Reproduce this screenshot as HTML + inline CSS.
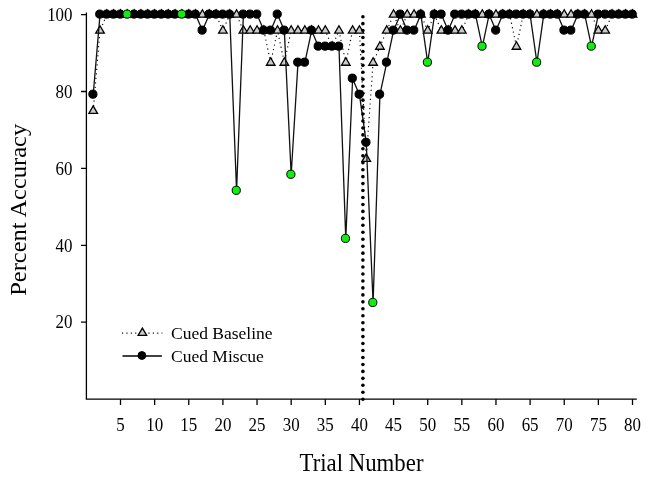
<!DOCTYPE html>
<html><head><meta charset="utf-8"><title>Percent Accuracy by Trial</title>
<style>html,body{margin:0;padding:0;background:#fff;width:650px;height:480px;overflow:hidden}svg{display:block}</style>
</head><body>
<svg width="650" height="480" viewBox="0 0 650 480"><rect width="650" height="480" fill="#fff"/><polyline points="93.2,110.73 100.02,30.62 106.85,14.6 113.68,14.6 120.5,14.6 127.33,14.6 134.16,14.6 140.98,14.6 147.81,14.6 154.64,14.6 161.46,14.6 168.29,14.6 175.12,14.6 181.94,14.6 188.77,14.6 195.6,14.6 202.42,14.6 209.25,14.6 216.08,14.6 222.9,30.62 229.73,14.6 236.56,14.6 243.38,30.62 250.21,30.62 257.04,30.62 263.86,30.62 270.69,62.66 277.52,30.62 284.34,62.66 291.17,30.62 298,30.62 304.82,30.62 311.65,30.62 318.48,30.62 325.3,30.62 332.13,46.64 338.96,30.62 345.78,62.66 352.61,30.62 359.44,30.62 366.26,158.79 373.09,62.66 379.92,46.64 386.74,30.62 393.57,14.6 400.4,30.62 407.22,14.6 414.05,14.6 420.88,14.6 427.7,30.62 434.53,14.6 441.36,30.62 448.19,30.62 455.01,30.62 461.84,30.62 468.67,14.6 475.49,14.6 482.32,14.6 489.15,14.6 495.97,14.6 502.8,14.6 509.63,14.6 516.45,46.64 523.28,14.6 530.11,14.6 536.93,14.6 543.76,14.6 550.59,14.6 557.41,14.6 564.24,14.6 571.07,14.6 577.89,14.6 584.72,14.6 591.55,14.6 598.37,30.62 605.2,30.62 612.03,14.6 618.85,14.6 625.68,14.6 632.51,14.6" fill="none" stroke="#000" stroke-width="1.15" stroke-dasharray="1.15 3.4" />
<g fill="#cbcbcb" stroke="#000" stroke-width="1.3" stroke-linejoin="miter"><path d="M93.2,105.83L97.5,113.33L88.9,113.33Z"/><path d="M100.02,25.72L104.32,33.22L95.72,33.22Z"/><path d="M106.85,9.7L111.15,17.2L102.55,17.2Z"/><path d="M113.68,9.7L117.98,17.2L109.38,17.2Z"/><path d="M120.5,9.7L124.8,17.2L116.2,17.2Z"/><path d="M127.33,9.7L131.63,17.2L123.03,17.2Z"/><path d="M134.16,9.7L138.46,17.2L129.86,17.2Z"/><path d="M140.98,9.7L145.28,17.2L136.68,17.2Z"/><path d="M147.81,9.7L152.11,17.2L143.51,17.2Z"/><path d="M154.64,9.7L158.94,17.2L150.34,17.2Z"/><path d="M161.46,9.7L165.76,17.2L157.16,17.2Z"/><path d="M168.29,9.7L172.59,17.2L163.99,17.2Z"/><path d="M175.12,9.7L179.42,17.2L170.82,17.2Z"/><path d="M181.94,9.7L186.24,17.2L177.64,17.2Z"/><path d="M188.77,9.7L193.07,17.2L184.47,17.2Z"/><path d="M195.6,9.7L199.9,17.2L191.3,17.2Z"/><path d="M202.42,9.7L206.72,17.2L198.12,17.2Z"/><path d="M209.25,9.7L213.55,17.2L204.95,17.2Z"/><path d="M216.08,9.7L220.38,17.2L211.78,17.2Z"/><path d="M222.9,25.72L227.2,33.22L218.6,33.22Z"/><path d="M229.73,9.7L234.03,17.2L225.43,17.2Z"/><path d="M236.56,9.7L240.86,17.2L232.26,17.2Z"/><path d="M243.38,25.72L247.68,33.22L239.08,33.22Z"/><path d="M250.21,25.72L254.51,33.22L245.91,33.22Z"/><path d="M257.04,25.72L261.34,33.22L252.74,33.22Z"/><path d="M263.86,25.72L268.16,33.22L259.56,33.22Z"/><path d="M270.69,57.76L274.99,65.26L266.39,65.26Z"/><path d="M277.52,25.72L281.82,33.22L273.22,33.22Z"/><path d="M284.34,57.76L288.64,65.26L280.04,65.26Z"/><path d="M291.17,25.72L295.47,33.22L286.87,33.22Z"/><path d="M298,25.72L302.3,33.22L293.7,33.22Z"/><path d="M304.82,25.72L309.12,33.22L300.52,33.22Z"/><path d="M311.65,25.72L315.95,33.22L307.35,33.22Z"/><path d="M318.48,25.72L322.78,33.22L314.18,33.22Z"/><path d="M325.3,25.72L329.6,33.22L321,33.22Z"/><path d="M332.13,41.74L336.43,49.24L327.83,49.24Z"/><path d="M338.96,25.72L343.26,33.22L334.66,33.22Z"/><path d="M345.78,57.76L350.08,65.26L341.48,65.26Z"/><path d="M352.61,25.72L356.91,33.22L348.31,33.22Z"/><path d="M359.44,25.72L363.74,33.22L355.14,33.22Z"/><path d="M366.26,153.89L370.56,161.39L361.96,161.39Z"/><path d="M373.09,57.76L377.39,65.26L368.79,65.26Z"/><path d="M379.92,41.74L384.22,49.24L375.62,49.24Z"/><path d="M386.74,25.72L391.04,33.22L382.44,33.22Z"/><path d="M393.57,9.7L397.87,17.2L389.27,17.2Z"/><path d="M400.4,25.72L404.7,33.22L396.1,33.22Z"/><path d="M407.22,9.7L411.52,17.2L402.92,17.2Z"/><path d="M414.05,9.7L418.35,17.2L409.75,17.2Z"/><path d="M420.88,9.7L425.18,17.2L416.58,17.2Z"/><path d="M427.7,25.72L432,33.22L423.4,33.22Z"/><path d="M434.53,9.7L438.83,17.2L430.23,17.2Z"/><path d="M441.36,25.72L445.66,33.22L437.06,33.22Z"/><path d="M448.19,25.72L452.49,33.22L443.89,33.22Z"/><path d="M455.01,25.72L459.31,33.22L450.71,33.22Z"/><path d="M461.84,25.72L466.14,33.22L457.54,33.22Z"/><path d="M468.67,9.7L472.97,17.2L464.37,17.2Z"/><path d="M475.49,9.7L479.79,17.2L471.19,17.2Z"/><path d="M482.32,9.7L486.62,17.2L478.02,17.2Z"/><path d="M489.15,9.7L493.45,17.2L484.85,17.2Z"/><path d="M495.97,9.7L500.27,17.2L491.67,17.2Z"/><path d="M502.8,9.7L507.1,17.2L498.5,17.2Z"/><path d="M509.63,9.7L513.93,17.2L505.33,17.2Z"/><path d="M516.45,41.74L520.75,49.24L512.15,49.24Z"/><path d="M523.28,9.7L527.58,17.2L518.98,17.2Z"/><path d="M530.11,9.7L534.41,17.2L525.81,17.2Z"/><path d="M536.93,9.7L541.23,17.2L532.63,17.2Z"/><path d="M543.76,9.7L548.06,17.2L539.46,17.2Z"/><path d="M550.59,9.7L554.89,17.2L546.29,17.2Z"/><path d="M557.41,9.7L561.71,17.2L553.11,17.2Z"/><path d="M564.24,9.7L568.54,17.2L559.94,17.2Z"/><path d="M571.07,9.7L575.37,17.2L566.77,17.2Z"/><path d="M577.89,9.7L582.19,17.2L573.59,17.2Z"/><path d="M584.72,9.7L589.02,17.2L580.42,17.2Z"/><path d="M591.55,9.7L595.85,17.2L587.25,17.2Z"/><path d="M598.37,25.72L602.67,33.22L594.07,33.22Z"/><path d="M605.2,25.72L609.5,33.22L600.9,33.22Z"/><path d="M612.03,9.7L616.33,17.2L607.73,17.2Z"/><path d="M618.85,9.7L623.15,17.2L614.55,17.2Z"/><path d="M625.68,9.7L629.98,17.2L621.38,17.2Z"/><path d="M632.51,9.7L636.81,17.2L628.21,17.2Z"/></g>
<polyline points="93.2,94.7 100.02,14.6 106.85,14.6 113.68,14.6 120.5,14.6 127.33,14.6 134.16,14.6 140.98,14.6 147.81,14.6 154.64,14.6 161.46,14.6 168.29,14.6 175.12,14.6 181.94,14.6 188.77,14.6 195.6,14.6 202.42,30.62 209.25,14.6 216.08,14.6 222.9,14.6 229.73,14.6 236.56,190.83 243.38,14.6 250.21,14.6 257.04,14.6 263.86,30.62 270.69,30.62 277.52,14.6 284.34,30.62 291.17,174.81 298,62.66 304.82,62.66 311.65,30.62 318.48,46.64 325.3,46.64 332.13,46.64 338.96,46.64 345.78,238.89 352.61,78.68 359.44,94.7 366.26,142.77 373.09,302.98 379.92,94.7 386.74,62.66 393.57,30.62 400.4,14.6 407.22,30.62 414.05,30.62 420.88,14.6 427.7,62.66 434.53,14.6 441.36,14.6 448.19,30.62 455.01,14.6 461.84,14.6 468.67,14.6 475.49,14.6 482.32,46.64 489.15,14.6 495.97,30.62 502.8,14.6 509.63,14.6 516.45,14.6 523.28,14.6 530.11,14.6 536.93,62.66 543.76,14.6 550.59,14.6 557.41,14.6 564.24,30.62 571.07,30.62 577.89,14.6 584.72,14.6 591.55,46.64 598.37,14.6 605.2,14.6 612.03,14.6 618.85,14.6 625.68,14.6 632.51,14.6" fill="none" stroke="#111" stroke-width="1.3" stroke-linejoin="round" />
<g fill="#000" stroke="#000" stroke-width="1"><circle cx="92.9" cy="94.2" r="4.1"/><circle cx="99.72" cy="14.1" r="4.1"/><circle cx="106.55" cy="14.1" r="4.1"/><circle cx="113.38" cy="14.1" r="4.1"/><circle cx="120.2" cy="14.1" r="4.1"/><circle cx="133.86" cy="14.1" r="4.1"/><circle cx="140.68" cy="14.1" r="4.1"/><circle cx="147.51" cy="14.1" r="4.1"/><circle cx="154.34" cy="14.1" r="4.1"/><circle cx="161.16" cy="14.1" r="4.1"/><circle cx="167.99" cy="14.1" r="4.1"/><circle cx="174.82" cy="14.1" r="4.1"/><circle cx="188.47" cy="14.1" r="4.1"/><circle cx="195.3" cy="14.1" r="4.1"/><circle cx="202.12" cy="30.12" r="4.1"/><circle cx="208.95" cy="14.1" r="4.1"/><circle cx="215.78" cy="14.1" r="4.1"/><circle cx="222.6" cy="14.1" r="4.1"/><circle cx="229.43" cy="14.1" r="4.1"/><circle cx="243.08" cy="14.1" r="4.1"/><circle cx="249.91" cy="14.1" r="4.1"/><circle cx="256.74" cy="14.1" r="4.1"/><circle cx="263.56" cy="30.12" r="4.1"/><circle cx="270.39" cy="30.12" r="4.1"/><circle cx="277.22" cy="14.1" r="4.1"/><circle cx="284.04" cy="30.12" r="4.1"/><circle cx="297.7" cy="62.16" r="4.1"/><circle cx="304.52" cy="62.16" r="4.1"/><circle cx="311.35" cy="30.12" r="4.1"/><circle cx="318.18" cy="46.14" r="4.1"/><circle cx="325" cy="46.14" r="4.1"/><circle cx="331.83" cy="46.14" r="4.1"/><circle cx="338.66" cy="46.14" r="4.1"/><circle cx="352.31" cy="78.18" r="4.1"/><circle cx="359.14" cy="94.2" r="4.1"/><circle cx="365.96" cy="142.27" r="4.1"/><circle cx="379.62" cy="94.2" r="4.1"/><circle cx="386.44" cy="62.16" r="4.1"/><circle cx="393.27" cy="30.12" r="4.1"/><circle cx="400.1" cy="14.1" r="4.1"/><circle cx="406.92" cy="30.12" r="4.1"/><circle cx="413.75" cy="30.12" r="4.1"/><circle cx="420.58" cy="14.1" r="4.1"/><circle cx="434.23" cy="14.1" r="4.1"/><circle cx="441.06" cy="14.1" r="4.1"/><circle cx="447.89" cy="30.12" r="4.1"/><circle cx="454.71" cy="14.1" r="4.1"/><circle cx="461.54" cy="14.1" r="4.1"/><circle cx="468.37" cy="14.1" r="4.1"/><circle cx="475.19" cy="14.1" r="4.1"/><circle cx="488.85" cy="14.1" r="4.1"/><circle cx="495.67" cy="30.12" r="4.1"/><circle cx="502.5" cy="14.1" r="4.1"/><circle cx="509.33" cy="14.1" r="4.1"/><circle cx="516.15" cy="14.1" r="4.1"/><circle cx="522.98" cy="14.1" r="4.1"/><circle cx="529.81" cy="14.1" r="4.1"/><circle cx="543.46" cy="14.1" r="4.1"/><circle cx="550.29" cy="14.1" r="4.1"/><circle cx="557.11" cy="14.1" r="4.1"/><circle cx="563.94" cy="30.12" r="4.1"/><circle cx="570.77" cy="30.12" r="4.1"/><circle cx="577.59" cy="14.1" r="4.1"/><circle cx="584.42" cy="14.1" r="4.1"/><circle cx="598.07" cy="14.1" r="4.1"/><circle cx="604.9" cy="14.1" r="4.1"/><circle cx="611.73" cy="14.1" r="4.1"/><circle cx="618.55" cy="14.1" r="4.1"/><circle cx="625.38" cy="14.1" r="4.1"/><circle cx="632.21" cy="14.1" r="4.1"/><circle cx="127.03" cy="14.1" r="4.1" fill="#12ec12"/><circle cx="181.64" cy="14.1" r="4.1" fill="#12ec12"/><circle cx="236.26" cy="190.33" r="4.1" fill="#12ec12"/><circle cx="290.87" cy="174.31" r="4.1" fill="#12ec12"/><circle cx="345.48" cy="238.39" r="4.1" fill="#12ec12"/><circle cx="372.79" cy="302.48" r="4.1" fill="#12ec12"/><circle cx="427.4" cy="62.16" r="4.1" fill="#12ec12"/><circle cx="482.02" cy="46.14" r="4.1" fill="#12ec12"/><circle cx="536.63" cy="62.16" r="4.1" fill="#12ec12"/><circle cx="591.25" cy="46.14" r="4.1" fill="#12ec12"/></g>
<g fill="#000"><circle cx="362.9" cy="399.2" r="1.8"/><circle cx="362.9" cy="392.25" r="1.8"/><circle cx="362.9" cy="385.29" r="1.8"/><circle cx="362.9" cy="378.33" r="1.8"/><circle cx="362.9" cy="371.38" r="1.8"/><circle cx="362.9" cy="364.43" r="1.8"/><circle cx="362.9" cy="357.47" r="1.8"/><circle cx="362.9" cy="350.51" r="1.8"/><circle cx="362.9" cy="343.56" r="1.8"/><circle cx="362.9" cy="336.61" r="1.8"/><circle cx="362.9" cy="329.65" r="1.8"/><circle cx="362.9" cy="322.69" r="1.8"/><circle cx="362.9" cy="315.74" r="1.8"/><circle cx="362.9" cy="308.78" r="1.8"/><circle cx="362.9" cy="301.83" r="1.8"/><circle cx="362.9" cy="294.88" r="1.8"/><circle cx="362.9" cy="287.92" r="1.8"/><circle cx="362.9" cy="280.96" r="1.8"/><circle cx="362.9" cy="274.01" r="1.8"/><circle cx="362.9" cy="267.05" r="1.8"/><circle cx="362.9" cy="260.1" r="1.8"/><circle cx="362.9" cy="253.14" r="1.8"/><circle cx="362.9" cy="246.19" r="1.8"/><circle cx="362.9" cy="239.23" r="1.8"/><circle cx="362.9" cy="232.28" r="1.8"/><circle cx="362.9" cy="225.32" r="1.8"/><circle cx="362.9" cy="218.37" r="1.8"/><circle cx="362.9" cy="211.41" r="1.8"/><circle cx="362.9" cy="204.46" r="1.8"/><circle cx="362.9" cy="197.5" r="1.8"/><circle cx="362.9" cy="190.55" r="1.8"/><circle cx="362.9" cy="183.59" r="1.8"/><circle cx="362.9" cy="176.64" r="1.8"/><circle cx="362.9" cy="169.68" r="1.8"/><circle cx="362.9" cy="162.73" r="1.8"/><circle cx="362.9" cy="155.77" r="1.8"/><circle cx="362.9" cy="148.82" r="1.8"/><circle cx="362.9" cy="141.87" r="1.8"/><circle cx="362.9" cy="134.91" r="1.8"/><circle cx="362.9" cy="127.95" r="1.8"/><circle cx="362.9" cy="121" r="1.8"/><circle cx="362.9" cy="114.04" r="1.8"/><circle cx="362.9" cy="107.09" r="1.8"/><circle cx="362.9" cy="100.13" r="1.8"/><circle cx="362.9" cy="93.18" r="1.8"/><circle cx="362.9" cy="86.22" r="1.8"/><circle cx="362.9" cy="79.27" r="1.8"/><circle cx="362.9" cy="72.31" r="1.8"/><circle cx="362.9" cy="65.36" r="1.8"/><circle cx="362.9" cy="58.4" r="1.8"/><circle cx="362.9" cy="51.45" r="1.8"/><circle cx="362.9" cy="44.5" r="1.8"/><circle cx="362.9" cy="37.54" r="1.8"/><circle cx="362.9" cy="30.58" r="1.8"/><circle cx="362.9" cy="23.63" r="1.8"/><circle cx="362.9" cy="16.68" r="1.8"/></g>
<path d="M86.4,12.4V399.2H636.8" fill="none" stroke="#000" stroke-width="1.3"/>
<path d="M81,322.2H86.4M81,245.3H86.4M81,168.4H86.4M81,91.5H86.4M81,14.6H86.4M120.5,399.2V405M154.64,399.2V405M188.77,399.2V405M222.9,399.2V405M257.04,399.2V405M291.17,399.2V405M325.3,399.2V405M359.44,399.2V405M393.57,399.2V405M427.7,399.2V405M461.84,399.2V405M495.97,399.2V405M530.11,399.2V405M564.24,399.2V405M598.37,399.2V405M632.51,399.2V405" stroke="#000" stroke-width="1.3" fill="none"/>
<g font-family="Liberation Serif, serif" font-size="18" fill="#000"><text transform="translate(72.5,328.4) scale(0.94,1)" text-anchor="end">20</text><text transform="translate(72.5,251.5) scale(0.94,1)" text-anchor="end">40</text><text transform="translate(72.5,174.6) scale(0.94,1)" text-anchor="end">60</text><text transform="translate(72.5,97.7) scale(0.94,1)" text-anchor="end">80</text><text transform="translate(72.5,20.8) scale(0.94,1)" text-anchor="end">100</text><text transform="translate(120.5,430.8) scale(0.94,1)" text-anchor="middle">5</text><text transform="translate(154.64,430.8) scale(0.94,1)" text-anchor="middle">10</text><text transform="translate(188.77,430.8) scale(0.94,1)" text-anchor="middle">15</text><text transform="translate(222.9,430.8) scale(0.94,1)" text-anchor="middle">20</text><text transform="translate(257.04,430.8) scale(0.94,1)" text-anchor="middle">25</text><text transform="translate(291.17,430.8) scale(0.94,1)" text-anchor="middle">30</text><text transform="translate(325.3,430.8) scale(0.94,1)" text-anchor="middle">35</text><text transform="translate(359.44,430.8) scale(0.94,1)" text-anchor="middle">40</text><text transform="translate(393.57,430.8) scale(0.94,1)" text-anchor="middle">45</text><text transform="translate(427.7,430.8) scale(0.94,1)" text-anchor="middle">50</text><text transform="translate(461.84,430.8) scale(0.94,1)" text-anchor="middle">55</text><text transform="translate(495.97,430.8) scale(0.94,1)" text-anchor="middle">60</text><text transform="translate(530.11,430.8) scale(0.94,1)" text-anchor="middle">65</text><text transform="translate(564.24,430.8) scale(0.94,1)" text-anchor="middle">70</text><text transform="translate(598.37,430.8) scale(0.94,1)" text-anchor="middle">75</text><text transform="translate(632.51,430.8) scale(0.94,1)" text-anchor="middle">80</text></g>
<text x="361.5" y="470.6" text-anchor="middle" font-family="Liberation Serif, serif" font-size="24.5" textLength="124" lengthAdjust="spacingAndGlyphs">Trial Number</text>
<text transform="translate(25.5,209.8) scale(0.93,1) rotate(-90)" x="0" y="0" text-anchor="middle" font-family="Liberation Serif, serif" font-size="24.5">Percent Accuracy</text>
<line x1="122" y1="333.1" x2="162.3" y2="333.1" stroke="#000" stroke-width="1.1" stroke-dasharray="1.1 3.3"/>
<path d="M142.4,328.1L146.7,335.3L138.1,335.3Z" fill="#cbcbcb" stroke="#000" stroke-width="1.3"/>
<line x1="122.5" y1="355.9" x2="161.9" y2="355.9" stroke="#000" stroke-width="1.5"/>
<circle cx="141.9" cy="355.5" r="3.9" fill="#000" stroke="#000" stroke-width="1"/>
<text x="171" y="339" font-family="Liberation Serif, serif" font-size="17.5">Cued Baseline</text>
<text x="171" y="362.3" font-family="Liberation Serif, serif" font-size="17.5">Cued Miscue</text></svg>
</body></html>
